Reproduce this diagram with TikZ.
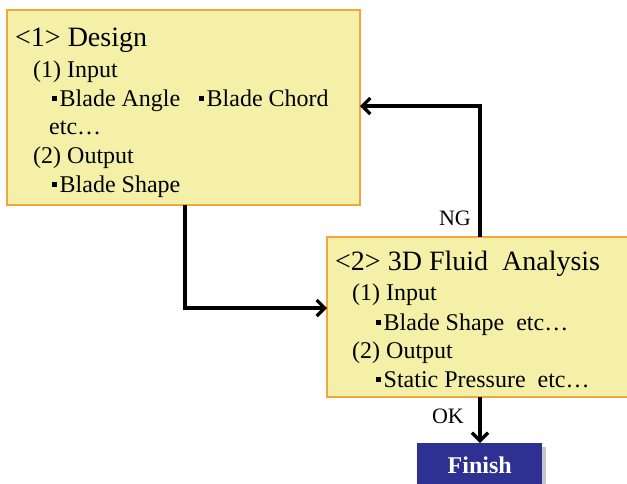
\documentclass[tikz,border=0pt]{standalone}
\usepackage{fontspec}
\setmainfont{Liberation Serif}
\usetikzlibrary{arrows.meta}
\definecolor{boxfill}{HTML}{F5F0A8}
\definecolor{boxline}{HTML}{F2A63C}
\definecolor{finblue}{HTML}{2E3192}
\newcommand{\bul}{\raisebox{5.5pt}{\rule{4.5pt}{4.5pt}}\hspace{3pt}}
\tikzset{
  x=1pt, y=-1pt,
  stepbox/.style={draw=boxline, line width=2.6pt, fill=boxfill},
  ttl/.style={anchor=base west, inner sep=0pt, font=\fontsize{28pt}{28pt}\selectfont},
  txt/.style={anchor=base west, inner sep=0pt, font=\fontsize{24pt}{24pt}\selectfont},
  lbl/.style={inner sep=0pt, font=\fontsize{22pt}{22pt}\selectfont},
  conn/.style={line width=3.2pt, -{Straight Barb[length=8pt,width=16pt,line width=3.2pt]}},
}
\begin{document}
\begin{tikzpicture}
\useasboundingbox (0,0) rectangle (627,483);
% boxes
\draw[stepbox] (7,10) rectangle (360,205);
\draw[stepbox] (327,237) rectangle (640,397);
\coordinate (b1s) at (185,205);
\coordinate (b1e) at (360,106);
\coordinate (b2w) at (327,308);
\coordinate (b2n) at (480,237);
\coordinate (b2s) at (480,397);
% finish
\fill[gray!45] (421,447) rectangle (546,490);
\node[fill=finblue, minimum width=125pt, minimum height=45pt, inner sep=0pt, anchor=north west, text=white, font=\fontsize{24pt}{24pt}\selectfont\bfseries] (fin) at (417,443) {Finish};
% texts box1
\node[ttl] (t1) at (15,46) {<1> Design};
\node[txt] (t1a) at (33,77) {(1) Input};
\node[txt] (t1b) at (52,106) {\bul Blade Angle};
\node[txt] (t1c) at (199,106) {\bul Blade Chord};
\node[txt] (t1d) at (49,134) {etc…};
\node[txt] (t1e) at (33,163) {(2) Output};
\node[txt] (t1f) at (52,192) {\bul Blade Shape};
% texts box2
\node[ttl] (t2) at (335,270) {<2> 3D Fluid\ \ Analysis};
\node[txt] (t2a) at (352,300) {(1) Input};
\node[txt] (t2b) at (376,330) {\bul Blade Shape\ \ etc…};
\node[txt] (t2c) at (352,358) {(2) Output};
\node[txt] (t2d) at (376,387) {\bul Static Pressure\ \ etc…};
% connectors
\draw[conn] (b1s) |- (b2w);
\draw[conn] (b2n) |- (b1e);
\draw[conn] (b2s) -- (fin.north -| b2s);
\node[lbl] (ng) at (455,218) {NG};
\node[lbl] (ok) at (448,416) {OK};
\end{tikzpicture}
\end{document}
